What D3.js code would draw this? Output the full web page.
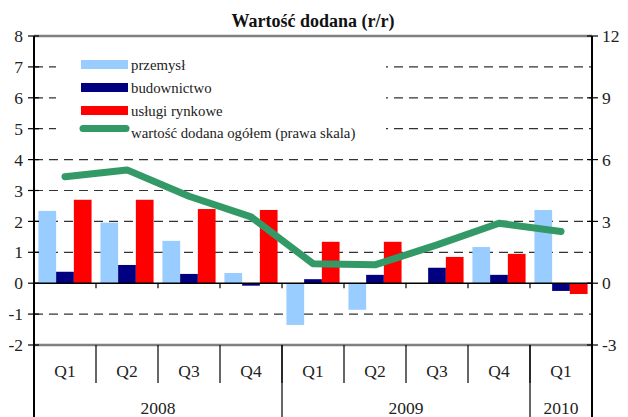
<!DOCTYPE html>
<html>
<head>
<meta charset="utf-8">
<script src="https://cdn.jsdelivr.net/npm/d3@7"></script>
<style>
  body { margin: 0; background: #fff; }
</style>
</head>
<body>
<div id="chart"></div>
<script>
// data
var quarters = ["Q1", "Q2", "Q3", "Q4", "Q1", "Q2", "Q3", "Q4", "Q1"];
var years = ["2008", "2009", "2010"];
var yearSpan = [4, 4, 1];
var przemysl = [2.34, 1.96, 1.37, 0.33, -1.35, -0.86, 0, 1.17, 2.37];
var budownictwo = [0.37, 0.59, 0.30, -0.08, 0.13, 0.27, 0.50, 0.27, -0.25];
var uslugi = [2.70, 2.70, 2.40, 2.37, 1.34, 1.34, 0.85, 0.95, -0.35];
var ogolem = [5.17, 5.50, 4.22, 3.22, 0.95, 0.89, 1.86, 2.91, 2.51];
var leftTicks = [-2, -1, 0, 1, 2, 3, 4, 5, 6, 7, 8];
var rightTicks = [-3, 0, 3, 6, 9, 12];

var barKeys = ["przemysl", "budownictwo", "uslugi"];
var barNames = ["przemysł", "budownictwo", "usługi rynkowe"];
var lineName = "wartość dodana ogółem (prawa skala)";
var colors = {przemysl: "#99ccff", budownictwo: "#000080", uslugi: "#ff0000", ogolem: "#339966"};

var W = 628, H = 417;
var pL = 34, pR = 592, pT = 36, pB = 345;
var fontSerif = "'Liberation Serif', 'Times New Roman', serif";

var ids = quarters.map(function(q, i) { return i; });
var rows = ids.map(function(i) {
  return {i: i, przemysl: przemysl[i], budownictwo: budownictwo[i], uslugi: uslugi[i], ogolem: ogolem[i]};
});

var x = d3.scaleBand().domain(ids).range([pL, pR]).padding(0);
var x1 = d3.scaleBand().domain(barKeys).range([0, x.bandwidth()]).paddingInner(0).paddingOuter(0.25);
var y = d3.scaleLinear().domain([-2, 8]).range([pB, pT]);
var y2 = d3.scaleLinear().domain([-3, 12]).range([pB, pT]);

var svg = d3.select("#chart").append("svg")
  .attr("width", W).attr("height", H);

function label(sel) {
  return sel.style("font-family", fontSerif).attr("fill", "#222");
}

// title
label(svg.append("text"))
  .attr("x", (pL + pR) / 2).attr("y", 27)
  .attr("text-anchor", "middle")
  .attr("font-weight", "bold").attr("font-size", 18)
  .attr("fill", "#111")
  .text("Wartość dodana (r/r)");

// gridlines
svg.append("g").selectAll("line")
  .data(leftTicks.filter(function(d) { return d > -2 && d < 8 && d !== 0; }))
  .enter().append("line")
  .attr("x1", pL).attr("x2", pR)
  .attr("y1", function(d) { return y(d); }).attr("y2", function(d) { return y(d); })
  .attr("stroke", "#333").attr("stroke-width", 1.2)
  .attr("stroke-dasharray", "9,6");

// top / bottom frame
svg.append("line").attr("x1", pL).attr("x2", pR).attr("y1", y(8)).attr("y2", y(8))
  .attr("stroke", "#808080").attr("stroke-width", 2.5);
svg.append("line").attr("x1", pL).attr("x2", pR).attr("y1", y(-2)).attr("y2", y(-2))
  .attr("stroke", "#808080").attr("stroke-width", 2.5);

// legend background covers gridlines
svg.append("rect").attr("x", 56).attr("y", 50).attr("width", 330).attr("height", 96).attr("fill", "#fff");

// bars
var groups = svg.append("g").selectAll("g")
  .data(rows).enter().append("g")
  .attr("transform", function(d) { return "translate(" + x(d.i) + ",0)"; });

groups.selectAll("rect")
  .data(function(d) { return barKeys.map(function(k) { return {key: k, value: d[k]}; }); })
  .enter().append("rect")
  .attr("x", function(d) { return x1(d.key); })
  .attr("width", x1.bandwidth())
  .attr("y", function(d) { return y(Math.max(0, d.value)); })
  .attr("height", function(d) { return Math.abs(y(d.value) - y(0)); })
  .attr("fill", function(d) { return colors[d.key]; });

// zero line with small ticks
svg.append("line").attr("x1", pL).attr("x2", pR).attr("y1", y(0)).attr("y2", y(0))
  .attr("stroke", "#000").attr("stroke-width", 1.5);
svg.append("g").selectAll("line")
  .data(ids.slice(1)).enter().append("line")
  .attr("x1", function(d) { return x(d); }).attr("x2", function(d) { return x(d); })
  .attr("y1", y(0)).attr("y2", y(0) + 5)
  .attr("stroke", "#000").attr("stroke-width", 1.2);

// line series on right axis
var line = d3.line()
  .x(function(d) { return x(d.i) + x.bandwidth() / 2; })
  .y(function(d) { return y2(d.ogolem); });
svg.append("path")
  .datum(rows)
  .attr("d", line)
  .attr("fill", "none")
  .attr("stroke", colors.ogolem)
  .attr("stroke-width", 7)
  .attr("stroke-linecap", "round")
  .attr("stroke-linejoin", "round");

// left axis
svg.append("line").attr("x1", pL).attr("x2", pL).attr("y1", pT).attr("y2", H)
  .attr("stroke", "#000").attr("stroke-width", 2);
var la = svg.append("g").selectAll("g").data(leftTicks).enter().append("g");
la.append("line")
  .attr("x1", pL - 6).attr("x2", pL + 5)
  .attr("y1", function(d) { return y(d); }).attr("y2", function(d) { return y(d); })
  .attr("stroke", "#000").attr("stroke-width", 1.2);
label(la.append("text"))
  .attr("x", pL - 11).attr("y", function(d) { return y(d); })
  .attr("dy", "0.35em").attr("text-anchor", "end").attr("font-size", 17.5)
  .text(function(d) { return d; });

// right axis
svg.append("line").attr("x1", pR).attr("x2", pR).attr("y1", pT).attr("y2", H)
  .attr("stroke", "#000").attr("stroke-width", 2);
var ra = svg.append("g").selectAll("g").data(rightTicks).enter().append("g");
ra.append("line")
  .attr("x1", pR - 5).attr("x2", pR + 6)
  .attr("y1", function(d) { return y2(d); }).attr("y2", function(d) { return y2(d); })
  .attr("stroke", "#000").attr("stroke-width", 1.2);
label(ra.append("text"))
  .attr("x", pR + 10).attr("y", function(d) { return y2(d); })
  .attr("dy", "0.35em").attr("text-anchor", "start").attr("font-size", 17.5)
  .text(function(d) { return d; });

// category axis: quarter separators and labels
svg.append("g").selectAll("line")
  .data(ids.slice(1)).enter().append("line")
  .attr("x1", function(d) { return x(d); }).attr("x2", function(d) { return x(d); })
  .attr("y1", pB).attr("y2", 383)
  .attr("stroke", "#000").attr("stroke-width", 1.2);
label(svg.append("g").selectAll("text")
  .data(rows).enter().append("text"))
  .attr("x", function(d) { return x(d.i) + x.bandwidth() / 2; })
  .attr("y", 377).attr("text-anchor", "middle").attr("font-size", 17.5)
  .text(function(d) { return quarters[d.i]; });

// year separators and labels
var start = 0;
years.forEach(function(yr, k) {
  var x0 = x(start), xe = x(start + yearSpan[k] - 1) + x.bandwidth();
  if (start > 0) {
    svg.append("line").attr("x1", x0).attr("x2", x0).attr("y1", pB).attr("y2", H)
      .attr("stroke", "#000").attr("stroke-width", 1.2);
  }
  label(svg.append("text"))
    .attr("x", (x0 + xe) / 2).attr("y", 414)
    .attr("text-anchor", "middle").attr("font-size", 17.5)
    .text(yr);
  start += yearSpan[k];
});

// legend
var leg = svg.append("g").attr("transform", "translate(81,0)");
barKeys.forEach(function(k, i) {
  var yy = 60 + i * 23;
  leg.append("rect").attr("x", 0).attr("y", yy).attr("width", 47).attr("height", 9)
    .attr("fill", colors[k]);
  label(leg.append("text")).attr("x", 50).attr("y", yy + 10).attr("font-size", 14.8)
    .text(barNames[i]);
});
leg.append("line").attr("x1", 2).attr("x2", 45).attr("y1", 128.5).attr("y2", 128.5)
  .attr("stroke", colors.ogolem).attr("stroke-width", 7).attr("stroke-linecap", "round");
label(leg.append("text")).attr("x", 50).attr("y", 138).attr("font-size", 14.8)
  .text(lineName);
</script>
</body>
</html>
